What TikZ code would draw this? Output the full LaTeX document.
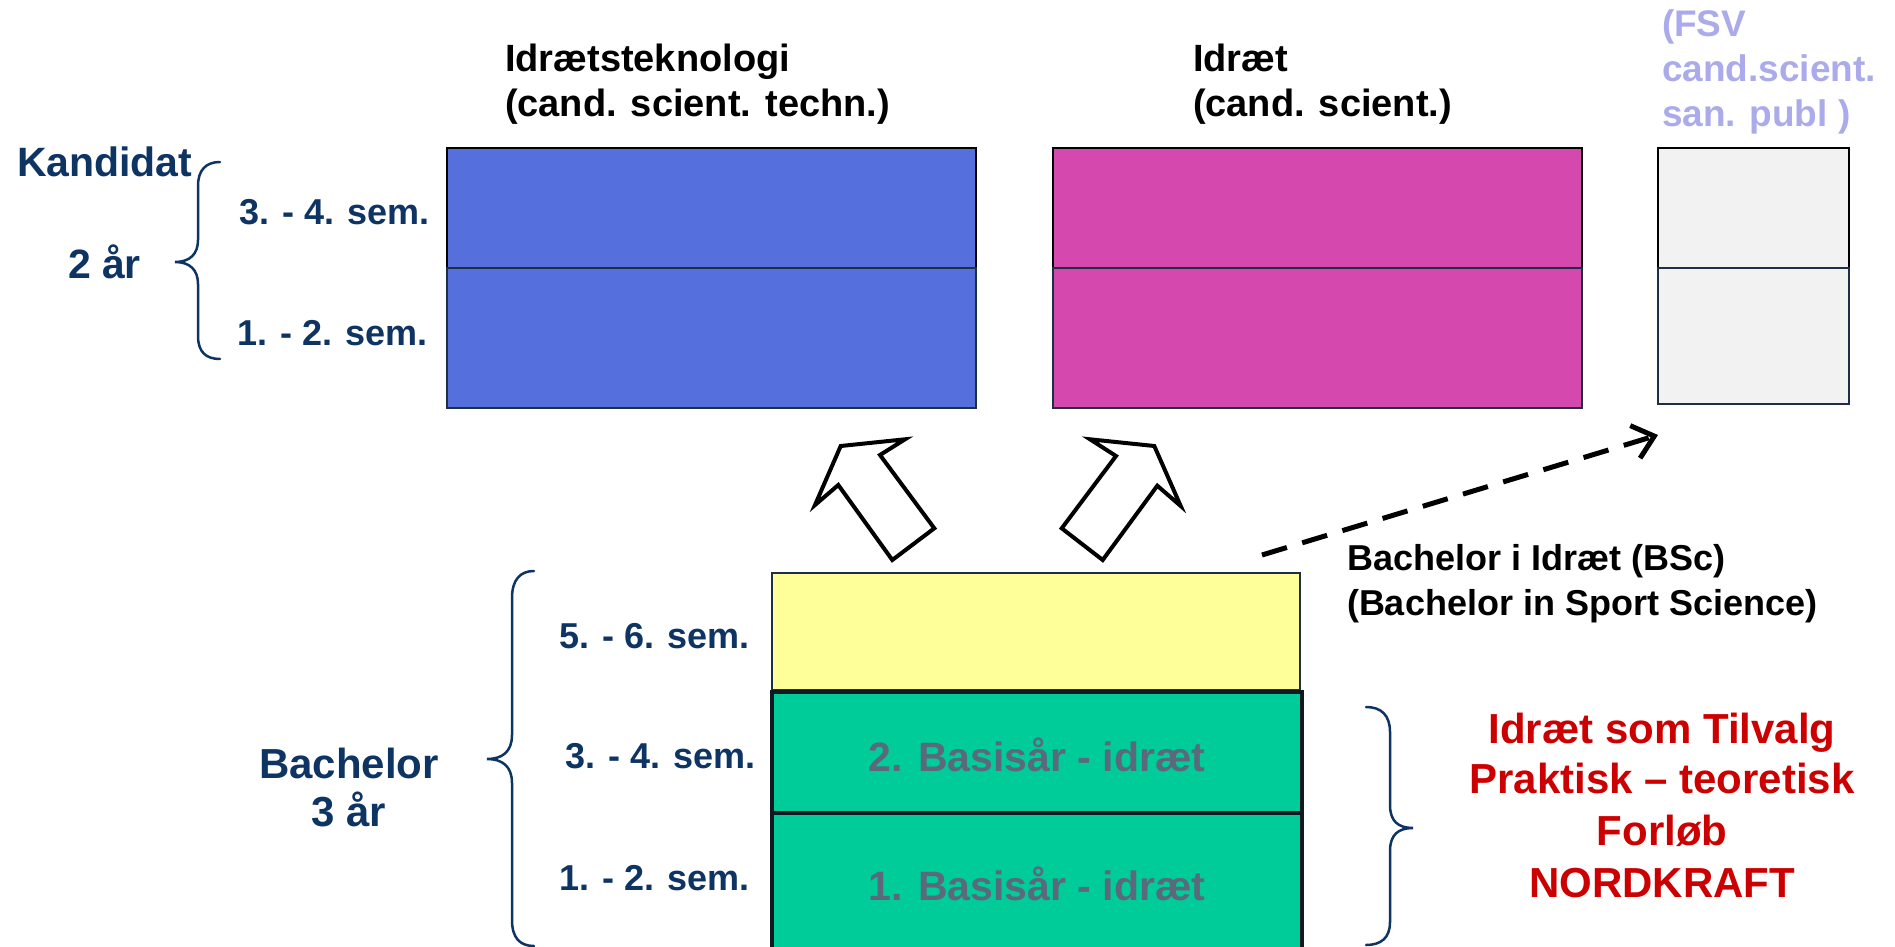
\documentclass[tikz,border=0pt]{standalone}
\usepackage{fontspec}
\setmainfont{Liberation Sans}
\usetikzlibrary{arrows.meta}
\definecolor{navy}{HTML}{0E3463}
\definecolor{kblue}{HTML}{5570DC}
\definecolor{kmag}{HTML}{D548AD}
\definecolor{kgray}{HTML}{F2F2F2}
\definecolor{byel}{HTML}{FFFF99}
\definecolor{bgreen}{HTML}{00CC99}
\definecolor{lav}{HTML}{ABABEB}
\definecolor{slate}{HTML}{5A6A7C}
\definecolor{kred}{HTML}{CC0000}
\definecolor{edge}{HTML}{1E2F45}
\definecolor{gedge}{HTML}{101822}
\newcommand\fsz[1]{\fontsize{#1}{#1}\selectfont}
\begin{document}
\begin{tikzpicture}[x=1pt,y=-1pt,
  txt/.style={inner sep=0pt, outer sep=0pt, font=\bfseries\fsz{#1}},
  cell/.style={inner sep=0pt, outer sep=0pt, line width=2pt},
  gcell/.style={inner sep=0pt, outer sep=0pt, line width=4.5pt, draw=gedge, fill=bgreen},
  bracepath/.style={draw=navy, line width=2.5pt, line cap=round},
  blockarrow/.style={draw=black, fill=white, line width=4pt, line join=miter},
  dasharrow/.style={draw=black, line width=5pt, dash pattern=on 26pt off 16pt,
    -{Straight Barb[length=20pt, width=34pt, line width=5pt]}}
]
\useasboundingbox (0,0) rectangle (1895,947);

% ---- Kandidat boxes
\node[cell, fill=kblue, draw=black, minimum width=529pt, minimum height=120pt] (itT) at (711.5,208) {};
\node[cell, fill=kblue, draw=edge, minimum width=529pt, minimum height=140pt] (itB) at (711.5,338) {};
\node[cell, fill=kmag, draw=black, minimum width=529pt, minimum height=120pt] (idT) at (1317.5,208) {};
\node[cell, fill=kmag, draw=edge, minimum width=529pt, minimum height=140pt] (idB) at (1317.5,338) {};
\node[cell, fill=kgray, draw=black, minimum width=191pt, minimum height=120pt] (fsT) at (1753.5,208) {};
\node[cell, fill=kgray, draw=edge, minimum width=191pt, minimum height=136pt] (fsB) at (1753.5,336) {};

% ---- Titles
\node[txt=38, anchor=base west] (t1a) at (505,72) {Idrætsteknologi};
\node[txt=38, anchor=base west] (t1b) at (505,117) {(cand. scient. techn.)};
\node[txt=38, anchor=base west] (t2a) at (1193,72) {Idræt};
\node[txt=38, anchor=base west] (t2b) at (1193,117) {(cand. scient.)};
\node[txt=37, text=lav, anchor=base west] (t3a) at (1662,37) {(FSV};
\node[txt=37, text=lav, anchor=base west] (t3b) at (1662,82) {cand.scient.};
\node[txt=37, text=lav, anchor=base west] (t3c) at (1662,127) {san. publ )};

% ---- Kandidat labels and brace
\node[txt=41, text=navy, anchor=base west] (kand) at (17,176) {Kandidat};
\node[txt=41, text=navy, anchor=base west] (k2) at (68,278) {2 år};
\node[txt=36, text=navy, anchor=base west] (k34) at (239,224) {3. - 4. sem.};
\node[txt=36, text=navy, anchor=base west] (k12) at (237,345) {1. - 2. sem.};
\path[bracepath] (220,162) .. controls (206,162) and (198,170) .. (198,186) -- (198,240)
  .. controls (198,254) and (190,262) .. (175,262)
  .. controls (190,262) and (198,270) .. (198,284) -- (198,336)
  .. controls (198,352) and (206,359) .. (220,359);

% ---- Bachelor boxes
\node[cell, fill=byel, draw=edge, line width=1.5pt, minimum width=528pt, minimum height=117pt] (y56) at (1036,631.5) {};
\node[gcell, minimum width=530pt, minimum height=147pt] (g12) at (1037,886.5) {};
\node[gcell, minimum width=530pt, minimum height=121pt] (g34) at (1037,752.5) {};
\node[txt=41, text=slate, anchor=base] (g34t) at (1037,771) {2. Basisår - idræt};
\node[txt=41, text=slate, anchor=base] (g12t) at (1037,900) {1. Basisår - idræt};

% ---- Bachelor labels and brace
\node[txt=36, text=navy, anchor=base west] (b56) at (559,648) {5. - 6. sem.};
\node[txt=36, text=navy, anchor=base west] (b34) at (565,768) {3. - 4. sem.};
\node[txt=36, text=navy, anchor=base west] (b12) at (559,890) {1. - 2. sem.};
\node[txt=42, text=navy, anchor=base] (bach) at (349,778) {Bachelor};
\node[txt=42, text=navy, anchor=base] (b3) at (349,826) {3 år};
\path[bracepath] (534,571) .. controls (520,571) and (512,580) .. (512,598) -- (512,735)
  .. controls (512,752) and (502,759) .. (487,759)
  .. controls (502,759) and (512,766) .. (512,783) -- (512,920)
  .. controls (512,938) and (520,946) .. (534,946);

% ---- Right brace and red text
\path[bracepath] (1366,707) .. controls (1381,707) and (1390,715) .. (1390,732) -- (1390,805)
  .. controls (1390,821) and (1398,828) .. (1413,828)
  .. controls (1398,828) and (1390,835) .. (1390,851) -- (1390,922)
  .. controls (1390,938) and (1381,945) .. (1366,945);
\node[txt=42, text=kred, anchor=base] (r1) at (1662,743) {Idræt som Tilvalg};
\node[txt=42, text=kred, anchor=base] (r2) at (1662,793) {Praktisk – teoretisk};
\node[txt=42, text=kred, anchor=base] (r3) at (1662,845) {Forløb};
\node[txt=42, text=kred, anchor=base] (r4) at (1662,897) {NORDKRAFT};

% ---- Bachelor degree text
\node[txt=36, anchor=base west] (bsc1) at (1347,570) {Bachelor i Idræt (BSc)};
\node[txt=36, anchor=base west] (bsc2) at (1347,615) {(Bachelor in Sport Science)};

% ---- Block arrows
\draw[blockarrow] (840.7,446) -- (905,439.3) -- (880,455) -- (934.3,528.3) -- (892.3,560)
  -- (838.3,485) -- (815,505) -- cycle;
\draw[blockarrow] (1154.3,446) -- (1090,439.3) -- (1116,456) -- (1061.7,528.3) -- (1102.7,560)
  -- (1157.3,485.7) -- (1180.7,506) -- cycle;

% ---- Dashed arrow
\coordinate (dA) at (1262,555);
\coordinate (dB) at (1658,435);
\draw[dasharrow] (dA) -- (dB);
\end{tikzpicture}
\end{document}
